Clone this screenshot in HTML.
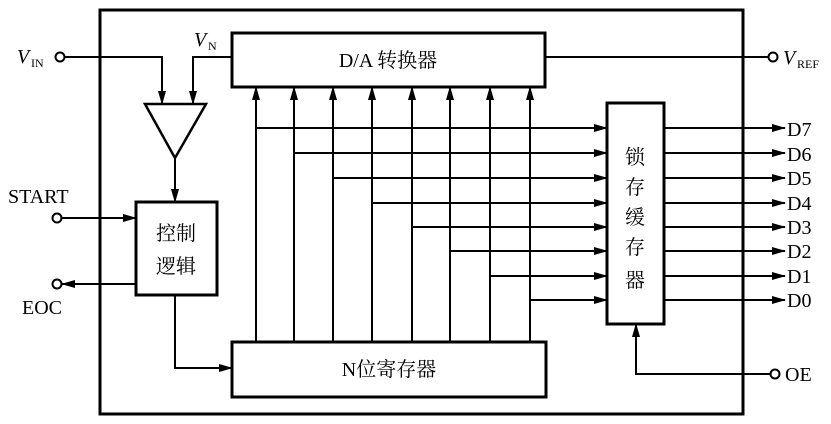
<!DOCTYPE html><html><head><style>body{margin:0;background:#fff}</style></head><body>
<svg width="831" height="419" viewBox="0 0 831 419" xmlns="http://www.w3.org/2000/svg" font-family="Liberation Serif, Noto Serif CJK SC, serif">
<defs><marker id="a" markerWidth="14" markerHeight="8" refX="13" refY="4" orient="auto" markerUnits="userSpaceOnUse"><path d="M0,0L14,4L0,8z" fill="#000"/></marker></defs>
<g fill="none" stroke="#000">
<rect x="100" y="10" width="643" height="404" stroke-width="3"/>
<rect x="232" y="33" width="313" height="54" stroke-width="3"/>
<rect x="232" y="342" width="314" height="55" stroke-width="3"/>
<rect x="607" y="103" width="57" height="221" stroke-width="3"/>
<rect x="136" y="202" width="81" height="93" stroke-width="3"/>
<path d="M145,104L206,104L175,158Z" stroke-width="2.5"/>
<g stroke-width="2" marker-end="url(#a)">
<path d="M65,57H162V104"/>
<path d="M232,57H193V104"/>
<path d="M175,158V202"/>
<path d="M545,57H769" marker-end="none"/>
<path d="M62,218H136"/>
<path d="M136,284H62"/>
<path d="M175,295V368H232"/>
<path d="M771,374H636V324"/>
<path d="M256,342V87"/><path d="M294,342V87"/><path d="M333,342V87"/><path d="M372,342V87"/><path d="M412,342V87"/><path d="M450,342V87"/><path d="M490,342V87"/><path d="M530,342V87"/>
<path d="M256,128H607"/><path d="M294,153H607"/><path d="M333,178H607"/><path d="M372,203H607"/><path d="M412,227H607"/><path d="M450,251H607"/><path d="M490,276H607"/><path d="M530,300H607"/>
<path d="M664,128H785"/><path d="M664,153H785"/><path d="M664,178H785"/><path d="M664,203H785"/><path d="M664,227H785"/><path d="M664,251H785"/><path d="M664,276H785"/><path d="M664,300H785"/>
</g>
<g stroke-width="2">
<circle cx="60" cy="57" r="4.5"/><circle cx="57" cy="218" r="4.5"/><circle cx="57" cy="284" r="4.5"/><circle cx="773" cy="57" r="4.5"/><circle cx="775" cy="374" r="4.5"/>
</g></g>
<g font-size="20" fill="#000">
<text x="17" y="63" font-style="italic">V</text><text x="31" y="67" font-size="12">IN</text>
<text x="194" y="46" font-style="italic">V</text><text x="208" y="50" font-size="12">N</text>
<text x="783" y="64" font-style="italic">V</text><text x="797" y="68" font-size="12">REF</text>
<text x="8" y="203">START</text><text x="22" y="314">EOC</text>
<text x="388" y="67" text-anchor="middle">D/A 转换器</text>
<text x="389" y="376" text-anchor="middle">N位寄存器</text>
<text x="176" y="240" text-anchor="middle">控制</text><text x="176" y="273" text-anchor="middle">逻辑</text>
<text x="635" y="164" text-anchor="middle">锁</text><text x="635" y="194" text-anchor="middle">存</text><text x="635" y="224" text-anchor="middle">缓</text><text x="635" y="254" text-anchor="middle">存</text><text x="635" y="287" text-anchor="middle">器</text>
<text x="787" y="136">D7</text><text x="787" y="161">D6</text><text x="787" y="185">D5</text><text x="787" y="210">D4</text><text x="787" y="234">D3</text><text x="787" y="258">D2</text><text x="787" y="283">D1</text><text x="787" y="307">D0</text>
<text x="785" y="381">OE</text>
</g></svg></body></html>
